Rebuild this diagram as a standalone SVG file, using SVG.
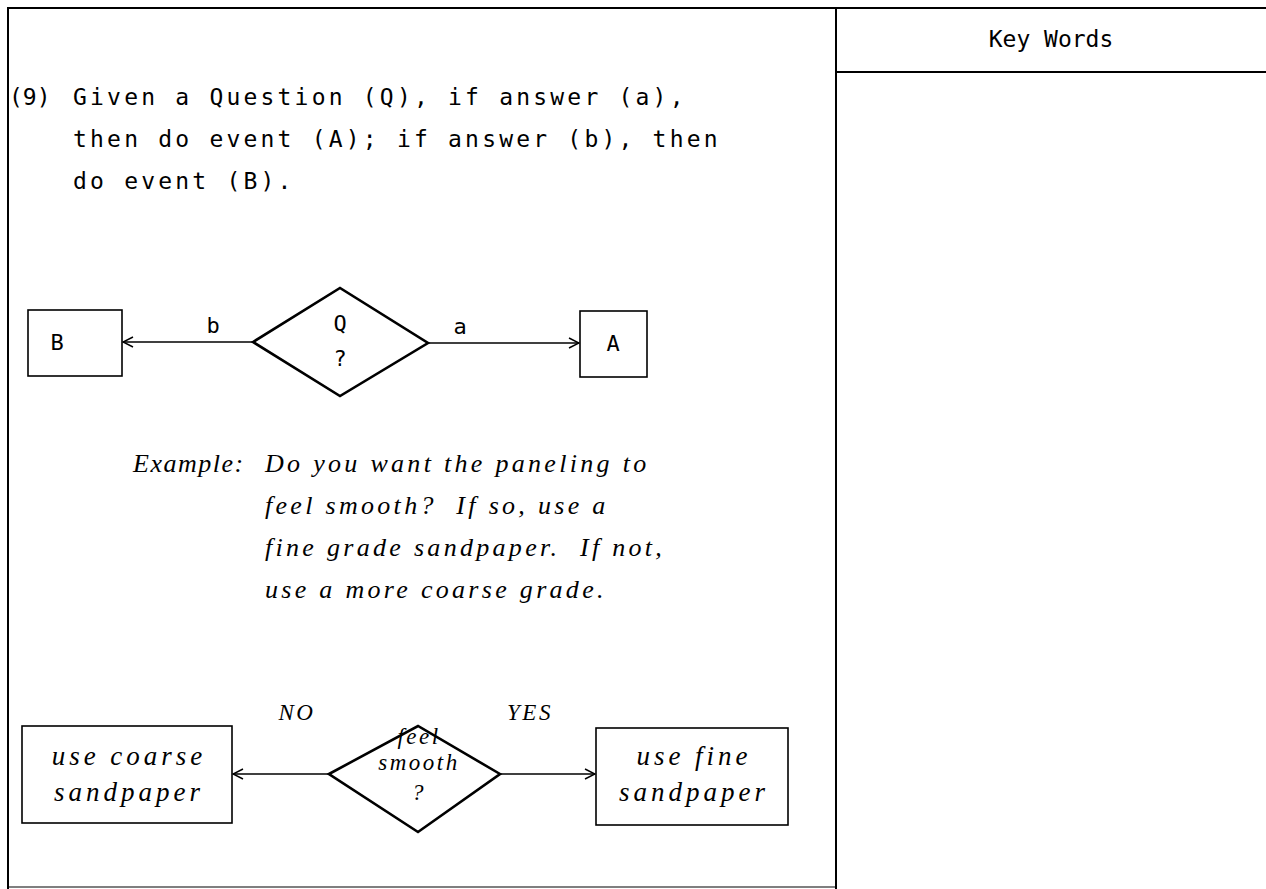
<svg xmlns="http://www.w3.org/2000/svg" width="1266" height="889" viewBox="0 0 1266 889">
<style>
.frame{stroke:#000;stroke-width:2;fill:none}
.box{stroke:#000;stroke-width:1.6;fill:#fff}
.dia{stroke:#000;stroke-width:2.6;fill:#fff;stroke-linejoin:miter}
.conn{stroke:#000;stroke-width:1.6;fill:none}
.t{font-family:"DejaVu Sans Mono",monospace;font-size:22px;fill:#000}
.ls{font-size:23px;letter-spacing:3.2px}
.c{font-family:"Liberation Serif",serif;font-style:italic;font-size:26px;letter-spacing:3.3px;fill:#000}
.cb{font-family:"Liberation Serif",serif;font-style:italic;font-size:27px;letter-spacing:4px;fill:#000}
.cs{font-family:"Liberation Serif",serif;font-style:italic;font-size:23px;letter-spacing:2.5px;fill:#000}
.m{text-anchor:middle}
</style>
<defs>
<marker id="ah" viewBox="0 0 12 12" refX="11" refY="6" markerWidth="12" markerHeight="12" markerUnits="userSpaceOnUse" orient="auto">
<path d="M1,1 L11,6 L1,11" fill="none" stroke="#000" stroke-width="1.5"/>
</marker>
</defs>
<rect width="1266" height="889" fill="#fff"/>
<g id="frame">
<path class="frame" d="M8,889 V8 H1266"/>
<path class="frame" d="M836,8 V889"/>
<path class="frame" d="M836,72 H1266"/>
<path class="frame" d="M8,887 H836" style="stroke-width:1.2"/>
</g>
<text class="t m" x="1051" y="47" style="font-size:23px">Key Words</text>
<g id="rule-text">
<text class="t" x="9" y="105" style="font-size:23px">(9)</text>
<text class="t ls" x="73" y="105">Given a Question (Q), if answer (a),</text>
<text class="t ls" x="73" y="147">then do event (A); if answer (b), then</text>
<text class="t ls" x="73" y="189">do event (B).</text>
</g>
<g id="connectors">
<line class="conn" x1="253" y1="342" x2="123" y2="342" marker-end="url(#ah)"/>
<line class="conn" x1="428" y1="343" x2="579" y2="343" marker-end="url(#ah)"/>
<line class="conn" x1="329" y1="774" x2="233" y2="774" marker-end="url(#ah)"/>
<line class="conn" x1="500" y1="774" x2="595" y2="774" marker-end="url(#ah)"/>
<text class="t m" x="213" y="333">b</text>
<text class="t m" x="460" y="334">a</text>
<text class="cs m" x="297" y="720">NO</text>
<text class="cs m" x="530" y="720">YES</text>
</g>
<g id="node-B">
<rect class="box" x="28" y="310" width="94" height="66"/>
<text class="t m" x="57" y="350">B</text>
</g>
<g id="node-Q">
<polygon class="dia" points="253,342 340,288 428,343 340,396"/>
<text class="t m" x="340" y="331">Q</text>
<text class="t m" x="340" y="366">?</text>
</g>
<g id="node-A">
<rect class="box" x="580" y="311" width="67" height="66"/>
<text class="t m" x="613" y="351">A</text>
</g>
<g id="example">
<text class="c" x="133" y="472" style="letter-spacing:1.5px">Example:</text>
<text class="c" x="265" y="472">Do you want the paneling to</text>
<text class="c" x="265" y="514">feel smooth?&#160; If so, use a</text>
<text class="c" x="265" y="556">fine grade sandpaper.&#160; If not,</text>
<text class="c" x="265" y="598">use a more coarse grade.</text>
</g>
<g id="node-coarse">
<rect class="box" x="22" y="726" width="210" height="97"/>
<text class="cb m" x="129" y="765">use coarse</text>
<text class="cb m" x="129" y="801">sandpaper</text>
</g>
<g id="node-smooth">
<polygon class="dia" points="329,774 418,726 500,774 418,832"/>
<text class="cs m" x="419" y="744">feel</text>
<text class="cs m" x="419" y="770">smooth</text>
<text class="cs m" x="419" y="800">?</text>
</g>
<g id="node-fine">
<rect class="box" x="596" y="728" width="192" height="97"/>
<text class="cb m" x="694" y="765">use fine</text>
<text class="cb m" x="694" y="801">sandpaper</text>
</g>
</svg>
